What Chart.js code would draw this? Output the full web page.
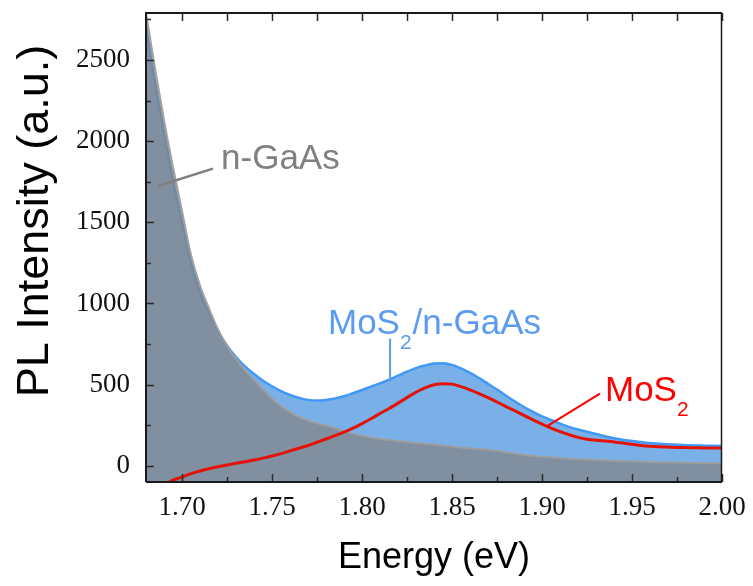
<!DOCTYPE html>
<html>
<head>
<meta charset="utf-8">
<script src="https://cdn.jsdelivr.net/npm/chart.js@4.4.0/dist/chart.umd.min.js"></script>
<style>
  html, body { margin: 0; padding: 0; background: #fff; }
  #wrap { width: 753px; height: 586px; }
</style>
</head>
<body>
<div id="wrap"><canvas id="c" width="753" height="586"></canvas></div>
<script>
// Photon energy (eV), shared by all three spectra
const energy = [
  1.680, 1.685, 1.690, 1.695, 1.700, 1.705, 1.710, 1.715, 1.720, 1.725,
  1.730, 1.735, 1.740, 1.745, 1.750, 1.755, 1.760, 1.765, 1.770, 1.775,
  1.780, 1.785, 1.790, 1.795, 1.800, 1.805, 1.810, 1.815, 1.820, 1.825,
  1.830, 1.835, 1.840, 1.845, 1.850, 1.855, 1.860, 1.865, 1.870, 1.875,
  1.880, 1.885, 1.890, 1.895, 1.900, 1.905, 1.910, 1.915, 1.920, 1.925,
  1.930, 1.935, 1.940, 1.945, 1.950, 1.955, 1.960, 1.965, 1.970, 1.975,
  1.980, 1.985, 1.990, 1.995, 2.000
];

// PL intensity (a.u.) of bare n-GaAs
const gaasPL = [
  2790, 2450, 2130, 1840, 1570, 1300, 1110, 970, 840, 740,
  660, 590, 530, 470, 415, 368, 330, 300, 280, 262,
  248, 232, 215, 198, 185, 175, 166, 160, 153, 147,
  141, 136, 131, 125, 118, 112, 107, 103, 99, 92,
  84, 76, 68, 61, 56, 52, 48, 44, 40, 38,
  36, 34, 32, 30, 28, 26, 24, 22, 21, 20,
  19, 18, 17, 16, 15
];

// PL intensity (a.u.) of the MoS2/n-GaAs heterostructure
const heteroPL = [
  2700, 2360, 2050, 1760, 1500, 1250, 1070, 945, 830, 740,
  670, 612, 565, 524, 490, 460, 436, 418, 406, 402,
  406, 415, 428, 447, 467, 488, 508, 530, 555, 580,
  602, 618, 630, 632, 622, 600, 572, 540, 505, 470,
  432, 396, 362, 332, 305, 282, 260, 240, 224, 210,
  196, 182, 170, 160, 152, 146, 140, 136, 132, 129,
  127, 125, 124, 123, 122
];

// PL intensity (a.u.) of MoS2 (heterostructure minus substrate)
const mos2PL = [
  null, null, -118, -88, -70, -48, -32, -18, -6, 5,
  15, 25, 35, 47, 60, 75, 92, 108, 125, 145,
  165, 186, 208, 232, 260, 290, 322, 353, 386, 420,
  453, 480, 499, 506, 503, 488, 468, 445, 420, 393,
  365, 338, 310, 283, 257, 232, 210, 191, 175, 164,
  157, 152, 147, 140, 132, 125, 120, 117, 115, 113,
  112, 111, 110, 110, 108
];

// Axis tick labels
const xTicks = [1.70, 1.75, 1.80, 1.85, 1.90, 1.95, 2.00];
const yTicks = [0, 500, 1000, 1500, 2000, 2500];

const toPoints = vals => energy.map((e, i) => ({ x: e, y: vals[i] }));

const SANS = '"Liberation Sans", Arial, sans-serif';
const SERIF = '"Liberation Serif", "Times New Roman", serif';

// Inward ticks, plot frame, axis titles and curve labels
const decorations = {
  id: 'decorations',
  afterDatasetsDraw(chart) {
    const { ctx, chartArea: a, scales: { x, y } } = chart;
    ctx.save();
    ctx.strokeStyle = '#2a2a2a';
    ctx.lineWidth = 1.5;
    ctx.beginPath();
    // x ticks (major + minor halfway), bottom and top edges
    const xStep = xTicks[1] - xTicks[0];
    xTicks.forEach(v => {
      [[v, 8], [v + xStep / 2, 5]].forEach(([t, len]) => {
        if (t > x.max + 1e-9) return;
        const px = Math.round(x.getPixelForValue(t)) + 0.5;
        ctx.moveTo(px, a.bottom); ctx.lineTo(px, a.bottom - len);
        ctx.moveTo(px, a.top); ctx.lineTo(px, a.top + 8);
      });
    });
    // y ticks (major + minor halfway), left edge
    const yStep = yTicks[1] - yTicks[0];
    yTicks.forEach(v => {
      [[v, 8], [v + yStep / 2, 5]].forEach(([t, len]) => {
        if (t > y.max) return;
        const py = Math.round(y.getPixelForValue(t)) + 0.5;
        ctx.moveTo(a.left, py); ctx.lineTo(a.left + len, py);
      });
    });
    ctx.stroke();
    // frame
    ctx.strokeStyle = '#1a1a1a';
    ctx.lineWidth = 2;
    ctx.beginPath();
    ctx.moveTo(a.left, a.bottom); ctx.lineTo(a.left, a.top); ctx.lineTo(a.right, a.top);
    ctx.moveTo(a.left, a.bottom); ctx.lineTo(a.right, a.bottom);
    ctx.stroke();
    ctx.lineWidth = 1.5;
    ctx.beginPath();
    ctx.moveTo(a.right - 0.5, a.top); ctx.lineTo(a.right - 0.5, a.bottom);
    ctx.stroke();
    ctx.restore();
  },
  afterDraw(chart) {
    const { ctx, chartArea: a, scales: { x, y } } = chart;
    ctx.save();
    ctx.fillStyle = '#000';
    // axis titles
    ctx.font = '36px ' + SANS;
    ctx.textAlign = 'center';
    ctx.textBaseline = 'alphabetic';
    ctx.fillText('Energy (eV)', (a.left + a.right) / 2, 568);
    ctx.save();
    ctx.translate(48, 221);
    ctx.rotate(-Math.PI / 2);
    ctx.font = '45px ' + SANS;
    ctx.fillText('PL Intensity (a.u.)', 0, 0);
    ctx.restore();

    // curve labels with pointer lines, placed in data coordinates
    const label = (e, i, parts, color) => {
      let px = x.getPixelForValue(e);
      const py = y.getPixelForValue(i);
      ctx.fillStyle = color;
      ctx.textAlign = 'left';
      parts.forEach(([txt, sub]) => {
        ctx.font = (sub ? '21px ' : '35px ') + SANS;
        ctx.fillText(txt, px, py + (sub ? 15 : 0));
        px += ctx.measureText(txt).width + (sub ? 1 : 0);
      });
    };
    const pointer = (e1, i1, e2, i2, color, w) => {
      ctx.strokeStyle = color;
      ctx.lineWidth = w;
      ctx.beginPath();
      ctx.moveTo(x.getPixelForValue(e1), y.getPixelForValue(i1));
      ctx.lineTo(x.getPixelForValue(e2), y.getPixelForValue(i2));
      ctx.stroke();
    };

    pointer(1.6867, 1724, 1.7172, 1831, '#808080', 2.5);
    label(1.7217, 1827, [['n-GaAs', false]], '#808080');

    pointer(1.8156, 784, 1.8156, 520, '#5b9bf0', 2);
    label(1.7811, 809, [['MoS', false], ['2', true], ['/n-GaAs', false]], '#5b9bf0');

    pointer(1.9026, 243, 1.9322, 444, '#ff0000', 2);
    label(1.9350, 397, [['MoS', false], ['2', true]], '#ff0000');
    ctx.restore();
  }
};

new Chart(document.getElementById('c'), {
  type: 'line',
  data: {
    datasets: [
      {
        label: 'MoS2',
        data: toPoints(mos2PL),
        borderColor: 'rgb(228,18,8)',
        borderWidth: 3,
        fill: false,
        order: 0
      },
      {
        label: 'n-GaAs',
        data: toPoints(gaasPL),
        borderColor: 'rgba(158,158,158,0.95)',
        backgroundColor: 'rgba(131,131,131,0.71)',
        borderWidth: 2,
        fill: 'start',
        order: 1
      },
      {
        label: 'MoS2/n-GaAs',
        data: toPoints(heteroPL),
        borderColor: 'rgb(66,152,245)',
        backgroundColor: 'rgb(122,176,232)',
        borderWidth: 2.5,
        fill: 'start',
        order: 2
      }
    ]
  },
  options: {
    responsive: false,
    animation: false,
    devicePixelRatio: 1,
    layout: { padding: { top: 13, right: 31, bottom: 0, left: 0 } },
    elements: {
      point: { radius: 0 },
      line: { cubicInterpolationMode: 'monotone' }
    },
    plugins: { legend: { display: false }, tooltip: { enabled: false } },
    scales: {
      x: {
        type: 'linear',
        min: 1.68,
        max: 2.00,
        grid: { display: false, drawTicks: false },
        border: { display: false },
        afterBuildTicks: axis => { axis.ticks = xTicks.map(v => ({ value: v })); },
        afterFit: axis => {
          axis.height = 104;
          axis.paddingLeft = 0; axis.paddingRight = 0;
        },
        ticks: {
          padding: 10,
          maxRotation: 0,
          autoSkip: false,
          color: '#111',
          font: { family: SERIF, size: 27 },
          callback: v => Number(v).toFixed(2)
        }
      },
      y: {
        type: 'linear',
        min: -100,
        max: 2790,
        grid: { display: false, drawTicks: false },
        border: { display: false },
        afterBuildTicks: axis => { axis.ticks = yTicks.map(v => ({ value: v })); },
        afterFit: axis => {
          axis.width = 146;
          axis.paddingTop = 0; axis.paddingBottom = 0;
        },
        ticks: {
          padding: 16,
          autoSkip: false,
          color: '#111',
          font: { family: SERIF, size: 27 },
          callback: v => String(v)
        }
      }
    }
  },
  plugins: [decorations]
});
</script>
</body>
</html>
